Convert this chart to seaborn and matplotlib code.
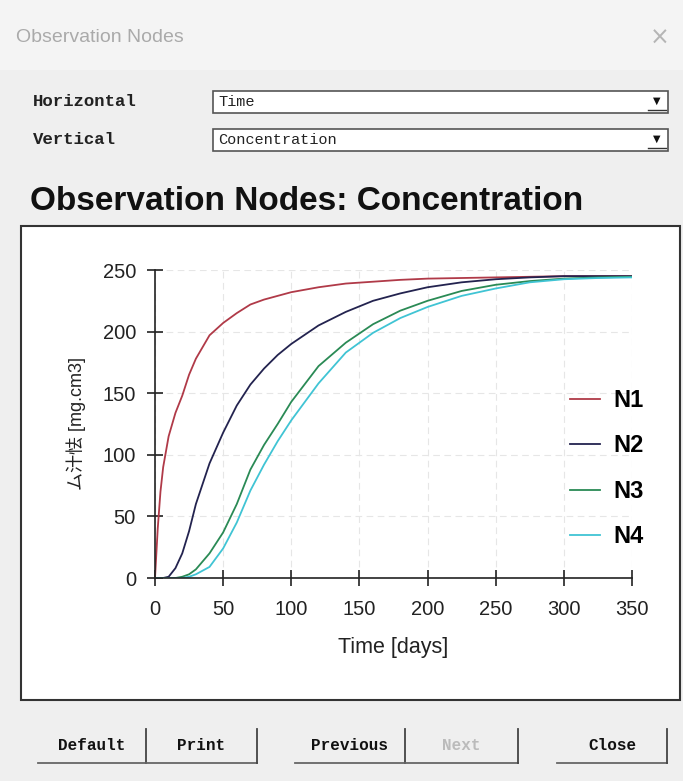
import pandas as pd
import matplotlib
matplotlib.use('Agg')
import matplotlib.pyplot as plt
import seaborn as sns
from matplotlib.patches import Rectangle

# time axis (days) and concentrations
days = [0, 2, 4, 6, 10, 15, 20, 25, 30, 40, 50, 60, 70, 80, 90, 100,
        120, 140, 160, 180, 200, 225, 250, 275, 300, 325, 350]
n1 = [0, 40, 70, 90, 115, 134, 148, 165, 178, 197, 207, 215, 222, 226, 229, 232,
      236, 239, 240.5, 242, 243, 243.5, 244, 244.5, 245, 245, 245]
n2 = [0, 0, 0, 0, 1, 8, 20, 38, 60, 93, 118, 140, 157, 170, 181, 190,
      205, 216, 225, 231, 236, 240, 242.5, 244, 245, 245, 245]
n3 = [0, 0, 0, 0, 0, 0, 1, 3, 7, 20, 37, 60, 88, 108, 125, 143,
      172, 191, 206, 217, 225, 233, 238, 241, 243, 244, 244.5]
n4 = [0, 0, 0, 0, 0, 0, 0, 1, 3, 9, 24, 45, 71, 92, 111, 128,
      158, 183, 199, 211, 220, 229, 235, 240, 242.5, 243.5, 244]
node_names = ['N1', 'N2', 'N3', 'N4']
node_colors = ['#b03a48', '#23234f', '#2a8a55', '#40c4d4']

x_ticks = [0, 50, 100, 150, 200, 250, 300, 350]
y_ticks = [0, 50, 100, 150, 200, 250]

rows = []
for name, vals in zip(node_names, [n1, n2, n3, n4]):
    for d, v in zip(days, vals):
        rows.append({'Time': d, 'Conc': v, 'Node': name})
df = pd.DataFrame(rows)

W, H = 683, 781
fig = plt.figure(figsize=(W / 100, H / 100), dpi=100)
fig.patch.set_facecolor('#efefef')

# dialog overlay in pixel coords
ui = fig.add_axes([0, 0, 1, 1])
ui.set_xlim(0, W)
ui.set_ylim(H, 0)
ui.axis('off')

ui.add_patch(Rectangle((0, 0), W, 70, facecolor='#f4f4f4', edgecolor='none'))
ui.text(16, 38, 'Observation Nodes', fontsize=14, color='#aaaaaa',
        family='Liberation Sans', va='center')
ui.text(660, 38, '×', fontsize=17, color='#b5b5b5', va='center', ha='center')

mono = 'Liberation Mono'
for y0, lab, val in [(91, 'Horizontal', 'Time'), (129, 'Vertical', 'Concentration')]:
    ui.text(33, y0 + 10, lab, fontsize=12.5, family=mono, fontweight='bold',
            va='center', color='#222222')
    ui.add_patch(Rectangle((213, y0), 455, 22, facecolor='white', edgecolor='#555555', lw=1.2))
    ui.text(218, y0 + 11, val, fontsize=11, family=mono, va='center', color='#222222')
    ui.text(657, y0 + 10, '▼', fontsize=7, ha='center', va='center', color='#111111')
    ui.plot([648, 666], [y0 + 19, y0 + 19], color='#333333', lw=1)

ui.text(30, 202, 'Observation Nodes: Concentration', fontsize=24, fontweight='bold',
        family='Liberation Sans', va='center', color='#111111')

ui.add_patch(Rectangle((21, 226), 659, 474, facecolor='white', edgecolor='#333333', lw=1.5))

# buttons
buttons = [(38, 146, 'Default', '#111111'), (146, 257, 'Print', '#111111'),
           (295, 405, 'Previous', '#111111'), (405, 518, 'Next', '#bbbbbb'),
           (557, 667, 'Close', '#111111')]
for x0, x1, lab, col in buttons:
    ui.plot([x0, x1], [763, 763], color='#666666', lw=1.3)
    ui.plot([x1, x1], [729, 763], color='#444444', lw=1.3)
    ui.text((x0 + x1) / 2, 746, lab, fontsize=11.5, family=mono, ha='center',
            va='center', color=col, fontweight='bold')

# plot area
ax = fig.add_axes([155 / W, 1 - 578 / H, 477 / W, 308 / H])
ax.set_facecolor('white')
sns.lineplot(data=df, x='Time', y='Conc', hue='Node', palette=node_colors,
             linewidth=1.3, ax=ax, legend=True)
ax.set_xlim(0, 350)
ax.set_ylim(0, 250)
ax.set_xticks(x_ticks)
ax.set_yticks(y_ticks)
for s in ['top', 'right']:
    ax.spines[s].set_visible(False)
for s in ['left', 'bottom']:
    ax.spines[s].set_color('#222222')
    ax.spines[s].set_linewidth(1.2)
ax.tick_params(direction='inout', length=11.5, width=1.2, color='#222222',
               labelsize=14.5, labelcolor='#222222')
ax.tick_params(axis='y', pad=8)
ax.tick_params(axis='x', pad=10)
for lbl in ax.get_xticklabels() + ax.get_yticklabels():
    lbl.set_family('Liberation Sans')
ax.grid(True, color='#e6e6e6', linestyle=(0, (6, 4)), linewidth=0.8)
ax.set_axisbelow(True)
ax.set_xlabel('Time [days]', fontsize=15.5, family='Liberation Sans', color='#222222', labelpad=13)
ax.set_ylabel('ム汁怯 [mg.cm3]', fontsize=13, family=['Liberation Sans', 'Noto Sans CJK SC'],
              color='#222222', labelpad=12)

handles, labels = ax.get_legend_handles_labels()
leg = ax.legend(handles, labels, loc='center left', bbox_to_anchor=(0.826, 0.355),
                frameon=False, handlelength=1.27, handletextpad=0.55, labelspacing=0.95,
                prop={'family': 'Liberation Sans', 'weight': 'bold', 'size': 17})

fig.savefig('out.png', dpi=100, facecolor=fig.get_facecolor())
